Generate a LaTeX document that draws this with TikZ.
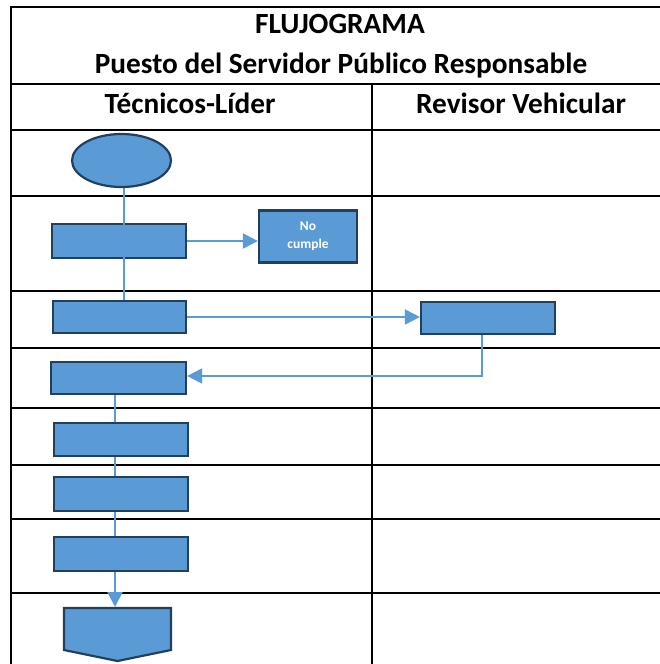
\documentclass[tikz,border=0pt]{standalone}
\usepackage{fontspec}
\setmainfont{Carlito}
\usetikzlibrary{arrows.meta,shapes.geometric,calc}
\definecolor{boxfill}{HTML}{5B9BD5}
\definecolor{boxline}{HTML}{223F5E}
\definecolor{conn}{HTML}{5B9BD5}
\begin{document}
\begin{tikzpicture}[x=1pt,y=-1pt,
  tline/.style={line width=2pt,black},
  procbox/.style={draw=boxline,fill=boxfill,line width=2.2pt,inner sep=0pt,rectangle},
  startshape/.style={draw=boxline,fill=boxfill,line width=2.2pt,inner sep=0pt,ellipse},
  conline/.style={draw=conn,line width=2pt},
  conarrow/.style={conline,-{Triangle[length=15pt,width=15pt]}},
  hdr/.style={font=\fontsize{29.3}{34}\selectfont\bfseries,inner sep=0pt,anchor=base}
]
\useasboundingbox (0,0) rectangle (660,664);
% table
\draw[tline] (11,664) -- (11,7) -- (660,7);
\foreach \yy in {84,130,196,291,348,408,465,519,593}
  \draw[tline] (11,\yy) -- (660,\yy);
\draw[tline] (372,84) -- (372,664);
% headers
\node[hdr] (t1) at (340,33) {FLUJOGRAMA};
\node[hdr] (t2) at (341,73) {Puesto del Servidor Público Responsable};
\node[hdr] (h1) at (190,113) {Técnicos-Líder};
\node[hdr] (h2) at (521,113) {Revisor Vehicular};
% shapes
\node[startshape,minimum width=99pt,minimum height=53pt] (e) at (121.5,160.5) {};
\node[procbox,minimum width=134pt,minimum height=34pt] (b2) at (119,241) {};
\node[procbox,minimum width=98pt,minimum height=52pt,text=white,align=center,
  font=\fontsize{13.5}{18}\selectfont\bfseries] (nc) at (308,236.5) {No\\cumple};
\node[procbox,minimum width=133pt,minimum height=32pt] (b3) at (119.5,317) {};
\node[procbox,minimum width=134pt,minimum height=32pt] (rev) at (488,318) {};
\node[procbox,minimum width=135pt,minimum height=32pt] (b4) at (118.5,378) {};
\node[procbox,minimum width=134pt,minimum height=33pt] (b5) at (121,439.5) {};
\node[procbox,minimum width=134pt,minimum height=34pt] (b6) at (121,494) {};
\node[procbox,minimum width=134pt,minimum height=34pt] (b7) at (121,554) {};
\draw[draw=boxline,fill=boxfill,line width=2.2pt,line join=miter]
  (64,608) -- (171,608) -- (171,650) -- (117.5,661) -- (64,650) -- cycle;
\coordinate (fin) at (117.5,607);
% connectors
\coordinate (vx1) at (124,0);
\coordinate (vx2) at (482,0);
\coordinate (vx3) at (115,0);
\draw[conline] (e.south -| vx1) -- (b3.north -| vx1);
\draw[conarrow] (b2.east) -- (b2.east -| nc.west);
\draw[conarrow] (b3.east) -- (b3.east -| rev.west);
\draw[conarrow] (rev.south -| vx2) |- ($(b4.east)+(0,-2)$);
\draw[conline] (b4.south -| vx3) -- (b5.north -| vx3);
\draw[conline] (b5.south -| vx3) -- (b6.north -| vx3);
\draw[conline] (b6.south -| vx3) -- (b7.north -| vx3);
\draw[conarrow] (b7.south -| vx3) -- (fin -| vx3);
\end{tikzpicture}
\end{document}
